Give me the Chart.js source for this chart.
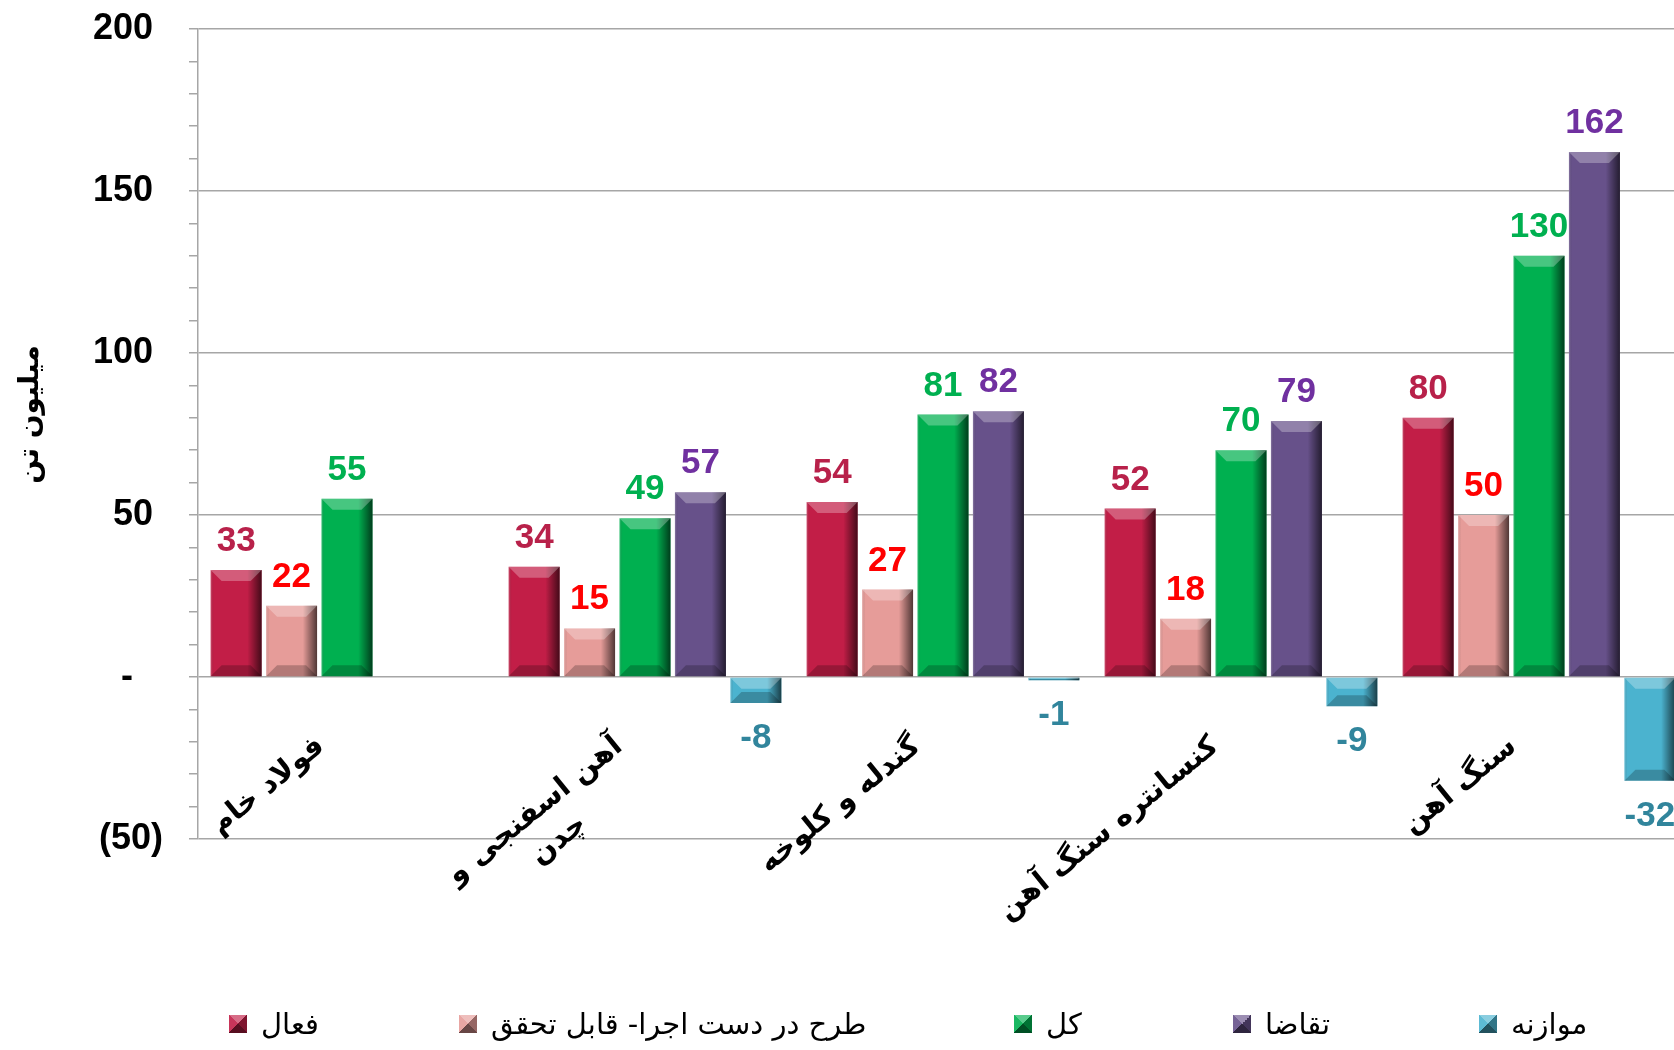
<!DOCTYPE html>
<html lang="fa">
<head>
<meta charset="utf-8">
<script src="https://cdn.jsdelivr.net/npm/chart.js@4.4.1/dist/chart.umd.min.js"></script>
<style>
  html, body { margin: 0; padding: 0; overflow: hidden; background: #fff; }
  #wrap { position: relative; width: 1700px; height: 1050px; }
  .item { position: absolute; top: 1004px; height: 40px; display: flex; align-items: center;
          font: 29px "DejaVu Sans", sans-serif; color: #000; white-space: nowrap; }
  .box { width: 18px; height: 18px; margin-right: 14px; flex: none; }
</style>
</head>
<body>
<div id="wrap">
  <canvas id="chart"></canvas>
  <div id="legend"></div>
</div>
<script>
// داده‌ها (میلیون تن)
const categories = [['فولاد خام'], ['آهن اسفنجی و', 'چدن'], ['گندله و کلوخه'], ['کنسانتره سنگ آهن'], ['سنگ آهن']];
const seriesNames = ['فعال', 'طرح در دست اجرا- قابل تحقق', 'کل', 'تقاضا', 'موازنه'];
const active = [33, 34, 54, 52, 80];
const planned = [22, 15, 27, 18, 50];
const total = [55, 49, 81, 70, 130];
const demand = [null, 57, 82, 79, 162];
const balance = [null, -8, -1, -9, -32];

const barColors = ['#C21E47', '#E69C99', '#00B050', '#67518A', '#4BB3CF'];
const labelColors = ['#B8214A', '#FF0000', '#00B050', '#7030A0', '#31859C'];
const legendLeft = [229, 459, 1014, 1233, 1479];

// fake 3D bevel on each bar
const bevel = {
  id: 'bevel',
  afterDatasetsDraw(chart) {
    const ctx = chart.ctx;
    chart.data.datasets.forEach((ds, i) => {
      chart.getDatasetMeta(i).data.forEach((bar, j) => {
        if (ds.data[j] == null) return;
        const p = bar.getProps(['x', 'y', 'base', 'width'], true);
        const l = p.x - p.width / 2, r = p.x + p.width / 2;
        const t = Math.min(p.y, p.base), b = Math.max(p.y, p.base);
        const h = b - t;
        const e = Math.min(11, h / 2);
        ctx.save();
        const g = ctx.createLinearGradient(l, 0, r, 0);
        g.addColorStop(0, 'rgba(255,255,255,0.25)');
        g.addColorStop(0.06, 'rgba(0,0,0,0)');
        g.addColorStop(0.72, 'rgba(0,0,0,0)');
        g.addColorStop(1, 'rgba(0,0,0,0.65)');
        ctx.fillStyle = g;
        ctx.fillRect(l, t, r - l, h);
        ctx.fillStyle = 'rgba(255,255,255,0.28)';
        ctx.beginPath();
        ctx.moveTo(l, t); ctx.lineTo(r, t); ctx.lineTo(r - e, t + e); ctx.lineTo(l + e, t + e);
        ctx.closePath(); ctx.fill();
        ctx.fillStyle = 'rgba(0,0,0,0.22)';
        ctx.beginPath();
        ctx.moveTo(l, b); ctx.lineTo(r, b); ctx.lineTo(r - e, b - e); ctx.lineTo(l + e, b - e);
        ctx.closePath(); ctx.fill();
        ctx.restore();
      });
    });
  }
};

// value labels above / below bars
const valueLabels = {
  id: 'valueLabels',
  afterDatasetsDraw(chart) {
    const ctx = chart.ctx;
    ctx.save();
    ctx.font = 'bold 35px "Liberation Sans", Arial, sans-serif';
    ctx.textAlign = 'center';
    ctx.textBaseline = 'alphabetic';
    chart.data.datasets.forEach((ds, i) => {
      chart.getDatasetMeta(i).data.forEach((bar, j) => {
        const v = ds.data[j];
        if (v == null) return;
        ctx.fillStyle = labelColors[i];
        if (v >= 0) ctx.fillText(String(v), bar.x, bar.y - 19);
        else ctx.fillText(String(v), bar.x, bar.y + 45);
      });
    });
    ctx.restore();
  }
};

// slanted category names under the zero line
const catLabels = {
  id: 'catLabels',
  afterDraw(chart) {
    const ctx = chart.ctx;
    const xs = chart.scales.x, ys = chart.scales.y;
    const y0 = ys.getPixelForValue(0);
    ctx.save();
    ctx.font = 'bold 29px "DejaVu Sans", sans-serif';
    ctx.fillStyle = '#000';
    ctx.textAlign = 'center';
    ctx.textBaseline = 'middle';
    categories.forEach((lines, i) => {
      const x = xs.getPixelForValue(i);
      const widths = lines.map(s => ctx.measureText(s).width);
      const maxW = Math.max(...widths);
      ctx.save();
      ctx.translate(x - 26, y0 + 66);
      ctx.rotate(-39 * Math.PI / 180);
      lines.forEach((s, k) => ctx.fillText(s, -maxW / 2, k * 38));
      ctx.restore();
    });
    ctx.restore();
  }
};

const gridGray = '#A6A6A6';

new Chart(document.getElementById('chart'), {
  type: 'bar',
  data: {
    labels: categories,
    datasets: [active, planned, total, demand, balance].map((d, i) => ({
      label: seriesNames[i],
      data: d,
      backgroundColor: barColors[i],
      categoryPercentage: 0.93,
      barPercentage: 0.92
    }))
  },
  options: {
    responsive: true,
    maintainAspectRatio: false,
    animation: false,
    layout: { padding: { left: 8, right: 12, top: 29, bottom: 211 } },
    plugins: { legend: { display: false }, tooltip: { enabled: false } },
    scales: {
      x: { display: false },
      y: {
        min: -50,
        max: 200,
        afterFit: (scale) => {
          scale.width = 190;
          scale.paddingTop = 0;
          scale.paddingBottom = 0;
        },
        border: { color: gridGray, width: 1.5 },
        grid: {
          color: (c) => (c.tick && c.tick.value % 50 === 0) ? gridGray : 'rgba(0,0,0,0)',
          lineWidth: 1.5,
          tickColor: gridGray,
          tickWidth: 1.5,
          tickLength: 9
        },
        ticks: {
          stepSize: 10,
          autoSkip: false,
          padding: 26,
          color: '#000',
          font: { family: '"Liberation Sans", Arial, sans-serif', size: 36, weight: 'bold' },
          callback: (v) => {
            if (v % 50 !== 0) return '';
            if (v === 0) return '-   ';
            if (v < 0) return '(' + Math.abs(v) + ')';
            return v + ' ';
          }
        },
        title: {
          display: true,
          text: '\u00A0\u00A0\u00A0\u00A0میلیون تن',
          color: '#000',
          padding: { top: 6, bottom: 0 },
          font: { family: '"DejaVu Sans", sans-serif', size: 28, weight: 'bold' }
        }
      }
    }
  },
  plugins: [bevel, valueLabels, catLabels]
});

// legend (HTML)
const legend = document.getElementById('legend');
seriesNames.forEach((name, i) => {
  const item = document.createElement('div');
  item.className = 'item';
  item.style.left = legendLeft[i] + 'px';
  const box = document.createElement('span');
  box.className = 'box';
  box.style.background = `conic-gradient(from -45deg, rgba(255,255,255,0.35) 0 25%, rgba(0,0,0,0.35) 25% 50%, rgba(0,0,0,0.55) 50% 75%, rgba(255,255,255,0.1) 75% 100%), ${barColors[i]}`;
  const txt = document.createElement('span');
  txt.textContent = name;
  item.appendChild(box);
  item.appendChild(txt);
  legend.appendChild(item);
});
</script>
</body>
</html>
